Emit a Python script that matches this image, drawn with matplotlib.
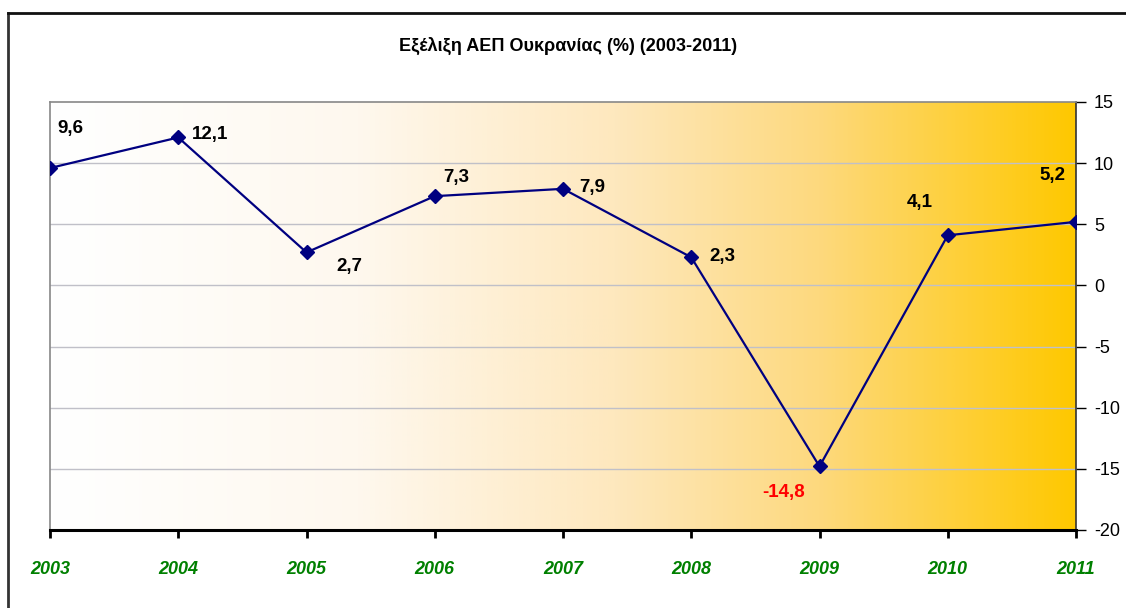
import numpy as np
import matplotlib.pyplot as plt
from matplotlib.colors import LinearSegmentedColormap
from matplotlib.lines import Line2D

years = [2003, 2004, 2005, 2006, 2007, 2008, 2009, 2010, 2011]
gdp = [9.6, 12.1, 2.7, 7.3, 7.9, 2.3, -14.8, 4.1, 5.2]
labels = ['9,6', '12,1', '2,7', '7,3', '7,9', '2,3', '-14,8', '4,1', '5,2']
# label offsets in pixels (dx, dy)
offs = [(20, 40), (32, 3), (43, -14), (22, 19), (29, 1), (31, 1), (-36, -26), (-28, 33), (-24, 46)]

plt.rcParams['font.family'] = ['Liberation Sans', 'DejaVu Sans']
plt.rcParams['axes.unicode_minus'] = False

fig = plt.figure(figsize=(11.26, 6.08), dpi=100)
ax = fig.add_axes([50/1126, 78/608, 1026/1126, 428/608])

# outer frame (left and top edges visible)
fig.add_artist(Line2D([8/1126, 8/1126], [0, 1-13/608], transform=fig.transFigure,
                      color='#333333', lw=2))
fig.add_artist(Line2D([8/1126, 1], [1-13/608, 1-13/608], transform=fig.transFigure,
                      color='#111111', lw=2))

cmap = LinearSegmentedColormap.from_list('bg', [(0, '#FFFFFF'), (0.3, '#FEF8EE'),
                                                (0.55, '#FEE8BE'), (0.75, '#FDD97E'),
                                                (1, '#FFC800')])
grad = np.linspace(0, 1, 512).reshape(1, -1)
ax.imshow(grad, cmap=cmap, aspect='auto', extent=[2003, 2011, -20, 15], zorder=0)

for v in range(-15, 15, 5):
    ax.axhline(v, color='#C0C0C8', lw=1, zorder=1)

ax.plot(years, gdp, color='#000080', lw=1.6, marker='D', markersize=7, zorder=3)

for x, y, t, (dx, dy) in zip(years, gdp, labels, offs):
    c = 'red' if y < 0 else 'black'
    ax.annotate(t, (x, y), xytext=(dx, dy), textcoords='offset pixels',
                ha='center', va='center', fontsize=13.5, fontweight='bold', color=c)

ax.set_xlim(2003, 2011)
ax.set_ylim(-20, 15)
ax.set_xticks(years)
ax.set_xticklabels([str(y) for y in years], color='#008000', fontsize=13,
                   fontweight='bold', fontstyle='italic')
ax.set_yticks(range(-20, 20, 5))
ax.yaxis.tick_right()
ax.tick_params(axis='y', labelsize=13, length=7, width=1, pad=6)
ax.tick_params(axis='x', length=6, width=2, pad=16)

for s in ['top', 'left']:
    ax.spines[s].set_color('#888888')
    ax.spines[s].set_linewidth(1.2)
ax.spines['bottom'].set_linewidth(2.2)
ax.spines['right'].set_color('#333333')
ax.spines['right'].set_linewidth(1.2)

fig.text(568/1126, 1-46/608, 'Εξέλιξη ΑΕΠ Ουκρανίας (%) (2003-2011)', ha='center',
         va='center', fontsize=13, fontweight='bold')

fig.savefig('out.png', dpi=100)
